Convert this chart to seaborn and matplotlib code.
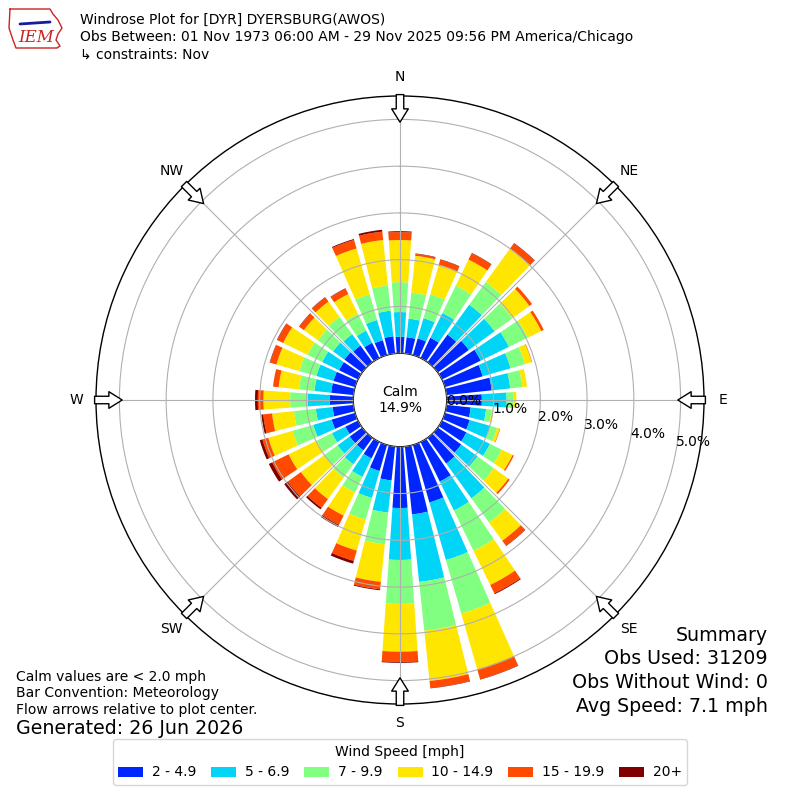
import numpy as np
import matplotlib
matplotlib.use('Agg')
import matplotlib.pyplot as plt
import seaborn as sns
from matplotlib.lines import Line2D

DIRECTIONS = np.arange(0, 360, 10)
SPEED_BINS = ['2 - 4.9', '5 - 6.9', '7 - 9.9', '10 - 14.9', '15 - 19.9', '20+']
SPEED_COLORS = ['#0026ff', '#00d4f7', '#80ff80', '#ffe600', '#ff4a00', '#800000']

speed_2_5 = [0.35, 0.35, 0.37, 0.48, 0.73, 0.82, 0.92, 0.84, 0.97, 0.75, 0.52, 0.55,
             0.58, 0.62, 0.68, 0.94, 1.28, 1.46, 1.31, 0.73, 0.58, 0.39, 0.33, 0.33,
             0.30, 0.52, 0.45, 0.50, 0.48, 0.48, 0.45, 0.47, 0.44, 0.36, 0.33, 0.37]
speed_5_7 = [0.53, 0.40, 0.45, 0.59, 0.79, 0.68, 0.67, 0.62, 0.40, 0.53, 0.33, 0.46,
             0.56, 0.43, 0.92, 0.69, 1.28, 1.45, 1.11, 0.69, 0.60, 0.44, 0.37, 0.32,
             0.32, 0.41, 0.36, 0.47, 0.36, 0.38, 0.40, 0.30, 0.30, 0.29, 0.45, 0.55]
speed_7_10 = [0.64, 0.56, 0.53, 0.65, 0.60, 0.47, 0.45, 0.32, 0.26, 0.14, 0.12, 0.15,
              0.28, 0.43, 0.64, 0.96, 1.19, 1.05, 0.94, 0.68, 0.48, 0.37, 0.35, 0.35,
              0.36, 0.46, 0.47, 0.38, 0.33, 0.38, 0.35, 0.40, 0.46, 0.40, 0.57, 0.54]
speed_10_15 = [0.90, 0.79, 0.66, 0.62, 0.88, 0.45, 0.32, 0.15, 0.10, 0.07, 0.04, 0.06,
               0.26, 0.38, 0.48, 0.81, 1.24, 1.08, 1.02, 0.81, 0.69, 0.55, 0.57, 0.62,
               0.67, 0.54, 0.47, 0.57, 0.44, 0.51, 0.58, 0.37, 0.40, 0.47, 1.02, 0.98]
speed_15_20 = [0.17, 0.04, 0.11, 0.15, 0.14, 0.07, 0.06, 0.01, 0.00, 0.00, 0.00, 0.01,
               0.03, 0.04, 0.13, 0.20, 0.22, 0.15, 0.22, 0.16, 0.23, 0.22, 0.23, 0.35,
               0.39, 0.13, 0.19, 0.12, 0.12, 0.14, 0.14, 0.12, 0.11, 0.13, 0.19, 0.18]
speed_20_up = [0.02, 0.01, 0.01, 0.01, 0.01, 0.00, 0.00, 0.00, 0.00, 0.00, 0.00, 0.00,
               0.00, 0.00, 0.01, 0.02, 0.01, 0.01, 0.02, 0.02, 0.06, 0.05, 0.04, 0.09,
               0.08, 0.06, 0.04, 0.06, 0.00, 0.01, 0.01, 0.01, 0.01, 0.01, 0.02, 0.04]
SERIES = [speed_2_5, speed_5_7, speed_7_10, speed_10_15, speed_15_20, speed_20_up]

CALM_PCT = 14.9
RING_VALUES = [0, 1, 2, 3, 4, 5]
COMPASS_ANGLES = np.arange(0, 360, 45)
COMPASS_LABELS = ['N', 'NE', 'E', 'SE', 'S', 'SW', 'W', 'NW']

TITLE_LINES = ['Windrose Plot for [DYR] DYERSBURG(AWOS)',
               'Obs Between: 01 Nov 1973 06:00 AM - 29 Nov 2025 09:56 PM America/Chicago',
               '\u21b3 constraints: Nov']
NOTES = ['Calm values are < 2.0 mph', 'Bar Convention: Meteorology',
         'Flow arrows relative to plot center.']
GENERATED = 'Generated: 26 Jun 2026'
SUMMARY = ['Summary', 'Obs Used: 31209', 'Obs Without Wind: 0', 'Avg Speed: 7.1 mph']

# --- PLOT ---
sns.set_style('white')
plt.rcParams['font.family'] = ['DejaVu Sans']
plt.rcParams['text.color'] = 'black'
plt.rcParams['xtick.color'] = 'black'
plt.rcParams['ytick.color'] = 'black'
plt.rcParams['axes.labelcolor'] = 'black'
palette = sns.color_palette(SPEED_COLORS)

fig = plt.figure(figsize=(8, 8), dpi=100)
ax = fig.add_axes([0.12, 0.12, 0.76, 0.76], projection='polar')
ax.set_theta_zero_location('N')
ax.set_theta_direction(-1)

theta = np.radians(DIRECTIONS)
bottom = np.zeros(len(DIRECTIONS))
handles = []
for label, color, vals in zip(SPEED_BINS, palette, SERIES):
    vals = np.asarray(vals)
    bars = ax.bar(theta, vals, width=np.radians(8), bottom=bottom, color=color,
                  label=label, linewidth=0, zorder=1)
    handles.append(bars)
    bottom += vals

ax.set_ylim(0, 5.5)
ax.set_rorigin(-1.0)
ax.set_yticks(RING_VALUES)
ax.set_yticklabels([])
ax.set_xticks(np.radians(COMPASS_ANGLES))
ax.set_xticklabels(COMPASS_LABELS, fontsize=10)
ax.tick_params(axis='x', pad=7, length=0)
ax.grid(True, color='#b0b0b0', lw=0.8)
ax.set_axisbelow(False)
for name, sp in ax.spines.items():
    sp.set_color('black')
    sp.set_linewidth(1.0)
if 'inner' in ax.spines:
    ax.spines['inner'].set_visible(True)

# radial labels
for v in RING_VALUES:
    ax.text(np.radians(100), v, f'{v:.1f}%', ha='left', va='bottom', fontsize=10, zorder=4)

# flow arrows
for ang in COMPASS_ANGLES:
    t = np.radians(ang)
    ax.annotate('', xy=(t, 4.94), xytext=(t, 5.53), annotation_clip=False, zorder=5,
                arrowprops=dict(arrowstyle='simple,head_length=0.8,head_width=1.0,tail_width=0.45',
                                fc='white', ec='black', lw=1, shrinkA=0, shrinkB=0,
                                mutation_scale=12))

ax.text(0.5, 0.5, f'Calm\n{CALM_PCT:.1f}%', transform=ax.transAxes, ha='center',
        va='center', fontsize=10, zorder=4)

# header
for i, line in enumerate(TITLE_LINES):
    fig.text(0.1, 0.975 - i * 0.0213, line, fontsize=10, va='center')

# rough IEM logo
px = np.array([10, 50, 53, 58, 62, 58, 56, 60, 57, 16, 13, 9, 10])
py = np.array([9, 9, 14, 20, 28, 34, 40, 46, 48, 48, 40, 28, 9])
fig.add_artist(Line2D(px / 800, 1 - py / 800, color='#cc2222', lw=1, transform=fig.transFigure))
fig.add_artist(Line2D([20 / 800, 50 / 800], [1 - 24 / 800, 1 - 22 / 800], color='#1a1aa0',
                      lw=2, transform=fig.transFigure))
fig.text(36 / 800, 1 - 38 / 800, 'IEM', color='#cc2222', fontsize=12, style='italic',
         family='DejaVu Serif', ha='center', va='center')

# notes
for i, line in enumerate(NOTES):
    fig.text(0.02, 0.154 - i * 0.0208, line, fontsize=10, va='center')
fig.text(0.02, 0.089, GENERATED, fontsize=13.7, va='center')
for i, line in enumerate(SUMMARY):
    fig.text(0.96, 0.206 - i * 0.0296, line, fontsize=13.7, ha='right', va='center')

fig.legend(handles=handles, labels=SPEED_BINS, loc='lower center', bbox_to_anchor=(0.5, 0.01),
           ncol=6, title='Wind Speed [mph]', fontsize=10, title_fontsize=10,
           handlelength=1.8, handleheight=0.7, handletextpad=0.6, columnspacing=1.1,
           frameon=True, edgecolor='0.8')

fig.savefig('out.png', dpi=100)
